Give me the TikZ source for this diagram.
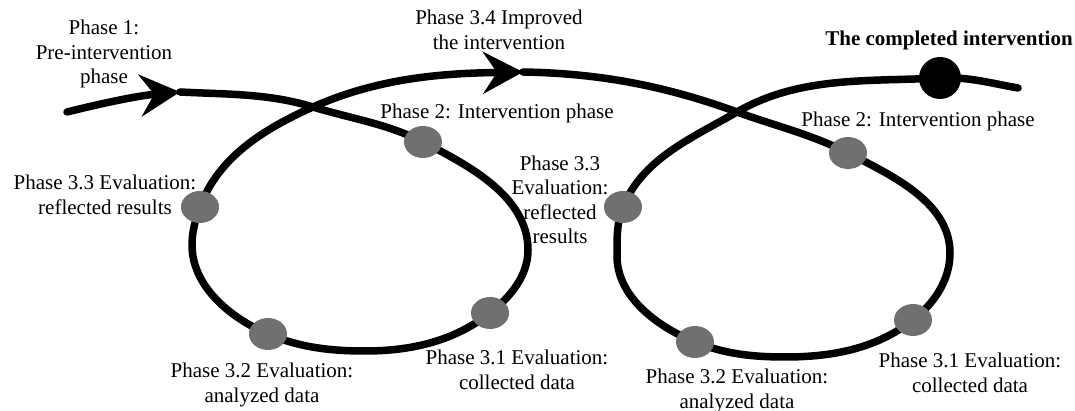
\documentclass[tikz,border=0pt]{standalone}
\usepackage{fontspec}
\setmainfont{Liberation Serif}
\usetikzlibrary{arrows.meta,shapes.geometric}
\definecolor{dotgray}{RGB}{112,112,112}
\begin{document}
\begin{tikzpicture}[x=1pt,y=1pt,
  curve/.style={line width=7.5pt, black, line cap=round, line join=round, looseness=0.9},
  tipped/.style={-{Stealth[length=40pt,width=42pt,inset=14pt]}},
  phasedot/.style={ellipse, fill=dotgray, draw=none, inner sep=0pt, minimum width=38pt, minimum height=32pt},
  enddot/.style={circle, fill=black, draw=none, inner sep=0pt, minimum size=42pt},
  lbl/.style={font=\fontsize{21}{24.5}\selectfont, align=center, inner sep=0pt},
  blbl/.style={font=\fontsize{21}{24.5}\selectfont\bfseries, align=center, inner sep=0pt}]
\useasboundingbox (0,0) rectangle (1075,411);
% points of the path
\coordinate (P0) at (67,299);
\coordinate (A1) at (180,319);
\coordinate (C1) at (313,304);
\coordinate (D2L) at (423,269);
\coordinate (R1) at (528,161);
\coordinate (D31L) at (490,98);
\coordinate (B1) at (365,60);
\coordinate (D32L) at (268,77);
\coordinate (L1) at (192,166);
\coordinate (D33L) at (200,204);
\coordinate (A2) at (523,339);
\coordinate (C2) at (737,299);
\coordinate (D2R) at (848,258);
\coordinate (R2) at (950,158);
\coordinate (D31R) at (913,91);
\coordinate (B2) at (785,54);
\coordinate (D32R) at (695,69);
\coordinate (L2) at (617,155);
\coordinate (D33R) at (623,204);
\coordinate (BD) at (940,333);
\coordinate (E) at (1018,323);
% curve
\draw[curve,tipped] (P0) to[out=14,in=185] (A1);
\draw[curve] (A1) to[out=-3,in=163] (C1) to[out=-17,in=153] (D2L)
  to[out=-27,in=90] (R1) to[out=-90,in=38] (D31L)
  to[out=-142,in=0] (B1) to[out=180,in=-23] (D32L) to[out=157,in=-90] (L1)
  to[out=90,in=-110] (D33L) to[out=70,in=-156] (C1);
\draw[curve,tipped] (C1) to[out=24,in=181] (A2);
\draw[curve] (A2) to[out=-1,in=160] (C2) to[out=-20,in=153] (D2R)
  to[out=-27,in=90] (R2) to[out=-90,in=38] (D31R)
  to[out=-142,in=0] (B2) to[out=180,in=-22] (D32R) to[out=158,in=-90] (L2)
  to[out=90,in=-112] (D33R) to[out=68,in=-150] (C2) to[out=30,in=183] (BD)
  to[out=3,in=170] (E);
% dots
\node[phasedot] (n2L) at (D2L) {};
\node[phasedot] (n31L) at (D31L) {};
\node[phasedot] (n32L) at (D32L) {};
\node[phasedot] (n33L) at (D33L) {};
\node[phasedot] (n2R) at (D2R) {};
\node[phasedot] (n31R) at (D31R) {};
\node[phasedot] (n32R) at (D32R) {};
\node[phasedot] (n33R) at (D33R) {};
\node[enddot] (nend) at (BD) {};
% labels
\node[lbl] (t1) at (104,357) {Phase 1:\\Pre-intervention\\phase};
\node[lbl] (t34) at (499,381) {Phase 3.4 Improved\\the intervention};
\node[blbl] (tc) at (949,371) {The completed intervention};
\node[lbl] (t2L) at (497,298) {Phase 2: Intervention phase};
\node[lbl] (t2R) at (918,290) {Phase 2: Intervention phase};
\node[lbl] (t33M) at (560,211) {Phase 3.3\\Evaluation:\\reflected\\results};
\node[lbl] (t33L) at (105,216) {Phase 3.3 Evaluation:\\reflected results};
\node[lbl] (t32L) at (262,26) {Phase 3.2 Evaluation:\\analyzed data};
\node[lbl] (t31L) at (517,41) {Phase 3.1 Evaluation:\\collected data};
\node[lbl] (t32R) at (737,20) {Phase 3.2 Evaluation:\\analyzed data};
\node[lbl] (t31R) at (970,38) {Phase 3.1 Evaluation:\\collected data};
\end{tikzpicture}
\end{document}
